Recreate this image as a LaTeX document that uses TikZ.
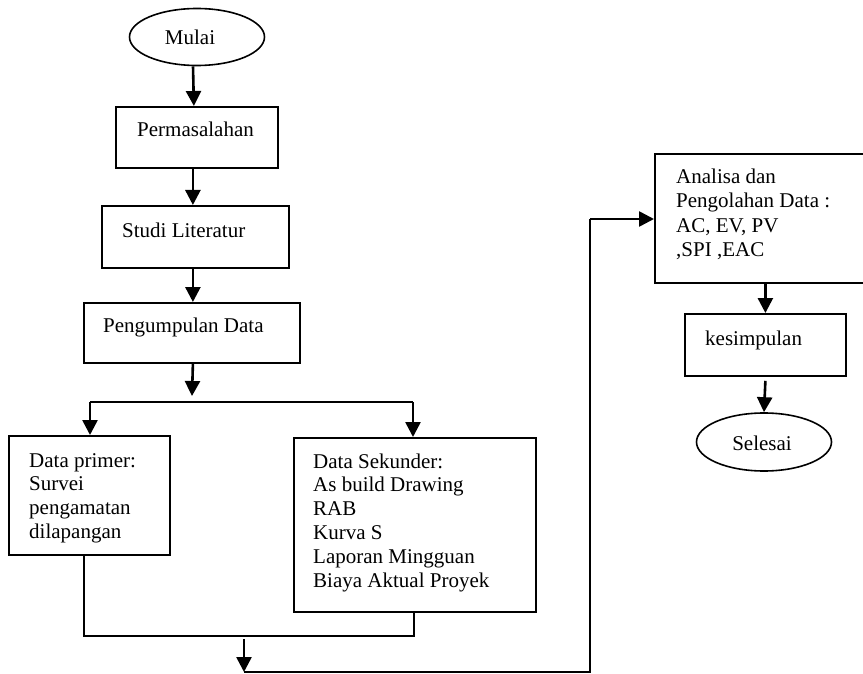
\documentclass[tikz,border=0pt]{standalone}
\usepackage{fontspec}
\setmainfont{Liberation Serif}
\usetikzlibrary{arrows.meta,shapes.geometric}
\begin{document}
\begin{tikzpicture}[x=1pt,y=-1pt,
  boxs/.style={draw, line width=1.8pt, anchor=north west, inner sep=0pt},
  oval/.style={draw, ellipse, line width=1.6pt, inner sep=0pt},
  txt/.style={font=\fontsize{21}{23.8}\selectfont, inner sep=0pt, align=left},
  arr/.style={line width=2.6pt, -{Triangle[length=15pt,width=15pt]}},
  ln/.style={line width=2pt}]
\fill[white] (0,0) rectangle (863,674);
\useasboundingbox (0,0) rectangle (863,674);
\clip (0,0) rectangle (863,674);

\node[oval, minimum width=135, minimum height=57] (mulai) at (197,37) {};
\node[txt, anchor=base] (tmulai) at (190,45) {Mulai};

\node[boxs, minimum width=162, minimum height=61] (perm) at (115,106) {};
\node[txt, anchor=base west] (tperm) at (137,137) {Permasalahan};

\node[boxs, minimum width=187, minimum height=62] (studi) at (101,205) {};
\node[txt, anchor=base west] (tstudi) at (122,237) {Studi Literatur};

\node[boxs, minimum width=216, minimum height=60] (kumpul) at (83,302) {};
\node[txt, anchor=base west] (tkumpul) at (103,332) {Pengumpulan Data};

% multi-line texts: base anchor = baseline of the last line
\node[boxs, minimum width=161, minimum height=119] (primer) at (8,435) {};
\node[txt, anchor=base west] (tprimer) at (29,538.4) {Data primer:\\Survei\\pengamatan\\dilapangan};

\node[boxs, minimum width=242, minimum height=174] (sekunder) at (293,437) {};
\node[txt, anchor=base west] (tsek) at (313,587) {Data Sekunder:\\As build Drawing\\RAB\\Kurva S\\Laporan Mingguan\\Biaya Aktual Proyek};

\node[boxs, minimum width=240, minimum height=129] (analisa) at (654,153) {};
\node[txt, font=\fontsize{21}{24.5}\selectfont, anchor=base west] (tanalisa) at (676,256.5) {Analisa dan\\Pengolahan Data :\\AC, EV, PV\\,SPI ,EAC};

\node[boxs, minimum width=161, minimum height=62] (simpul) at (684,313) {};
\node[txt, anchor=base west] (tsimpul) at (705,345) {kesimpulan};

\node[oval, minimum width=135, minimum height=58] (selesai) at (764,442) {};
\node[txt, anchor=base] (tselesai) at (762,450) {Selesai};

% connectors
\draw[arr] ([xshift=-4]mulai.south) -- ([xshift=-3]perm.north);
\draw[arr] ([xshift=-4]perm.south) -- ([xshift=-2.5]studi.north);
\draw[arr] ([xshift=-2.5]studi.south) -- ([xshift=1]kumpul.north);

\coordinate (split) at (192,396);
\coordinate (hl) at (90,402);
\coordinate (hr) at (413,402);
\draw[arr] ([xshift=1]kumpul.south) -- (split);
\draw[ln] (hl) -- (hr);
\draw[arr] (hl) -- (hl |- primer.north);
\draw[arr] (hr) -- (hr |- sekunder.north);

\coordinate (ml) at (84,636);
\coordinate (mr) at (414,636);
\draw[ln] (primer.south -| ml) -- (ml) -- (mr) -- (sekunder.south -| mr);

\coordinate (dn) at (244,639);
\coordinate (bl) at (244,672);
\coordinate (br) at (590,672);
\coordinate (bt) at (590,219);
\draw[arr] (dn) -- (bl);
\draw[ln] (bl) -- (br) -- (bt);
\draw[arr] (bt) -- (bt -| analisa.west);

\draw[arr] (analisa.south -| simpul.north) -- (simpul.north);
\draw[arr] ([yshift=-4]simpul.south) -- (selesai.north);
\end{tikzpicture}
\end{document}
